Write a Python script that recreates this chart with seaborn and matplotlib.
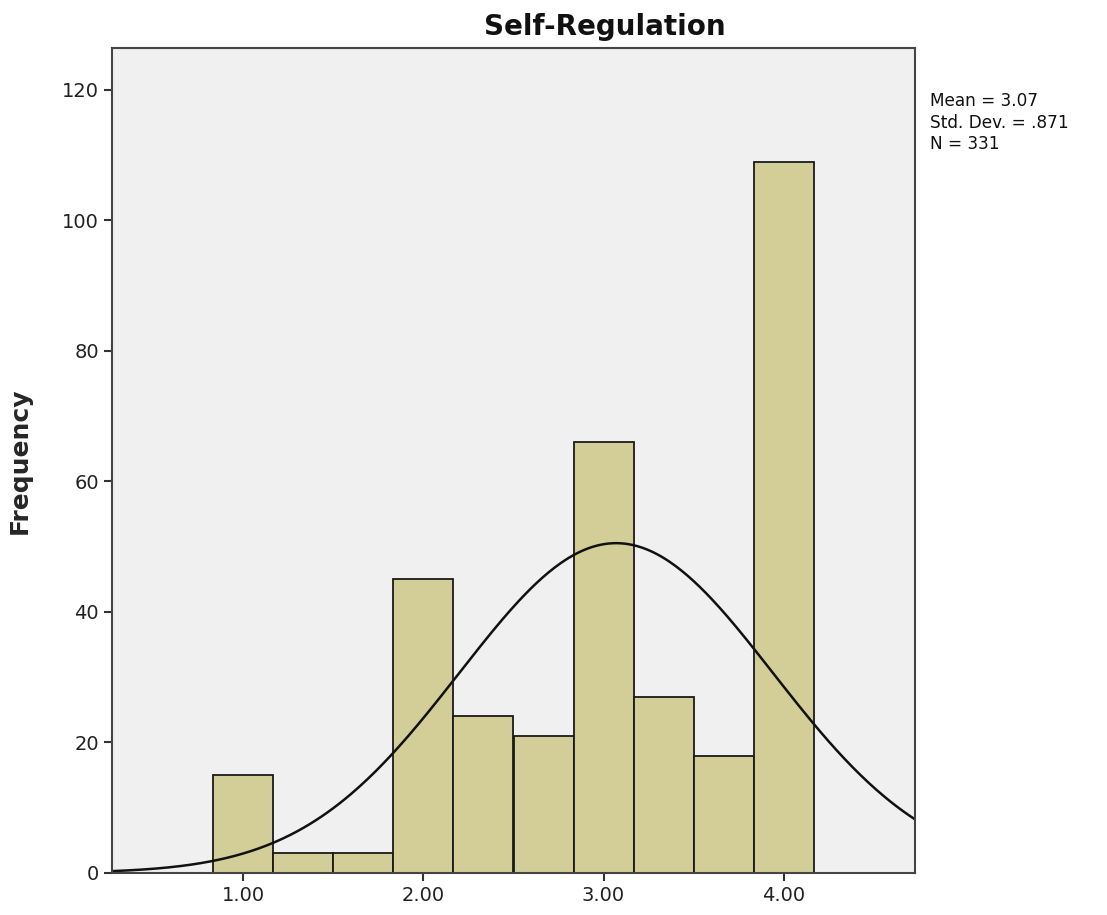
import numpy as np
import pandas as pd
import matplotlib
matplotlib.use("Agg")
import matplotlib.pyplot as plt
import seaborn as sns

# Data
bin_centers = [1.0, 1.3333, 1.6667, 2.0, 2.3333, 2.6667, 3.0, 3.3333, 3.6667, 4.0]
frequencies = [15, 3, 3, 45, 24, 21, 66, 27, 18, 109]
mean_val = 3.07
std_val = 0.871
n_val = 331
xtick_values = [1.0, 2.0, 3.0, 4.0]
xtick_labels = ["1.00", "2.00", "3.00", "4.00"]
ytick_values = [0, 20, 40, 60, 80, 100, 120]

sns.set_style("white")
plt.rcParams['font.family'] = ['DejaVu Sans']

fig = plt.figure(figsize=(11.07, 9.15), dpi=100)
ax = fig.add_axes([112 / 1107, 1 - 873 / 915, (915 - 112) / 1107, (873 - 48) / 915])
ax.set_facecolor("#F0F0F0")

width = 1.0 / 3.0
edges = [1.0 - width / 2 + i * width for i in range(len(bin_centers) + 1)]
df = pd.DataFrame({"value": bin_centers, "count": frequencies})
sns.histplot(data=df, x="value", weights="count", bins=edges, ax=ax,
             color="#D3CE97", alpha=1.0, edgecolor="#1a1a1a", linewidth=1.3)

# Normal curve from mean, SD and N
xs = np.linspace(0.27, 4.73, 400)
ys = n_val * width / (std_val * np.sqrt(2 * np.pi)) * np.exp(-0.5 * ((xs - mean_val) / std_val) ** 2)
sns.lineplot(x=xs, y=ys, ax=ax, color="#111111", linewidth=1.8)

ax.set_xlim(0.27, 4.73)
ax.set_ylim(0, 126.4)
ax.set_xticks(xtick_values)
ax.set_xticklabels(xtick_labels)
ax.set_yticks(ytick_values)
ax.tick_params(axis="both", direction="out", length=6, width=1.5, color="#333333",
               labelsize=14, labelcolor="#222222", bottom=True, left=True)
ax.set_xlabel("")
ax.set_ylabel("Frequency", fontsize=18, fontweight="bold", labelpad=22)
for s in ax.spines.values():
    s.set_visible(True)
    s.set_color("#444444")
    s.set_linewidth(1.5)

fig.text(605 / 1107, 1 - 27 / 915, "Self-Regulation", fontsize=20, fontweight="bold",
         ha="center", va="center", color="#111111")

fig.text(930 / 1107, 1 - 92 / 915, "Mean = 3.07\nStd. Dev. = .871\nN = 331",
         fontsize=12.2, va="top", ha="left", linespacing=1.25, color="#111111")

fig.savefig("out.png", dpi=100)
